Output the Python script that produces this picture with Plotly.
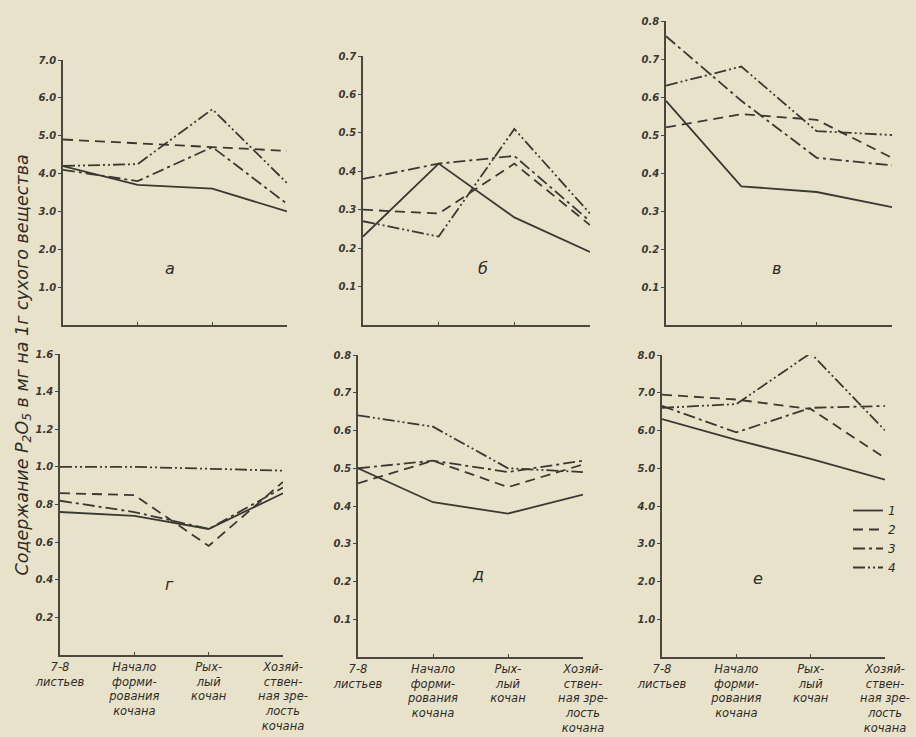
import plotly.graph_objects as go

W, H = 916, 737

stages = ["7-8<br>листьев", "Начало<br>форми-<br>рования<br>кочана",
          "Рых-<br>лый<br>кочан", "Хозяй-<br>ствен-<br>ная зре-<br>лость<br>кочана"]
series_names = ["1", "2", "3", "4"]

# panel а
a_1 = [4.2, 3.7, 3.6, 3.0]
a_2 = [4.9, 4.8, 4.7, 4.6]
a_3 = [4.1, 3.8, 4.7, 3.2]
a_4 = [4.2, 4.25, 5.7, 3.75]
# panel б
b_1 = [0.23, 0.42, 0.28, 0.19]
b_2 = [0.30, 0.29, 0.42, 0.26]
b_3 = [0.38, 0.42, 0.44, 0.27]
b_4 = [0.27, 0.23, 0.51, 0.29]
# panel в
v_1 = [0.59, 0.365, 0.35, 0.31]
v_2 = [0.52, 0.555, 0.54, 0.44]
v_3 = [0.76, 0.59, 0.44, 0.42]
v_4 = [0.63, 0.68, 0.51, 0.50]
# panel г
g_1 = [0.76, 0.74, 0.67, 0.86]
g_2 = [0.86, 0.85, 0.58, 0.92]
g_3 = [0.82, 0.76, 0.67, 0.89]
g_4 = [1.0, 1.0, 0.99, 0.98]
# panel д
d_1 = [0.50, 0.41, 0.38, 0.43]
d_2 = [0.46, 0.52, 0.45, 0.51]
d_3 = [0.50, 0.52, 0.49, 0.52]
d_4 = [0.64, 0.61, 0.50, 0.49]
# panel е
e_1 = [6.3, 5.75, 5.25, 4.7]
e_2 = [6.95, 6.82, 6.57, 5.27]
e_3 = [6.65, 5.95, 6.6, 6.65]
e_4 = [6.6, 6.7, 8.05, 6.0]

a_ticks = [1, 2, 3, 4, 5, 6, 7]
b_ticks = [0.1, 0.2, 0.3, 0.4, 0.5, 0.6, 0.7]
v_ticks = [0.1, 0.2, 0.3, 0.4, 0.5, 0.6, 0.7, 0.8]
g_ticks = [0.2, 0.4, 0.6, 0.8, 1.0, 1.2, 1.4, 1.6]
d_ticks = [0.1, 0.2, 0.3, 0.4, 0.5, 0.6, 0.7, 0.8]
e_ticks = [1, 2, 3, 4, 5, 6, 7, 8]

panels = [
    # letter, data, ticks, ymax, x px (left,right), y px (top,bottom), letter pos
    ("а", [a_1, a_2, a_3, a_4], a_ticks, 7.0, (63, 287), (60, 325), (163, 268)),
    ("б", [b_1, b_2, b_3, b_4], b_ticks, 0.7, (363, 590), (56, 325), (483, 268)),
    ("в", [v_1, v_2, v_3, v_4], v_ticks, 0.8, (666, 892), (21, 325), (783, 268)),
    ("г", [g_1, g_2, g_3, g_4], g_ticks, 1.6, (60, 283), (354, 655), (163, 596)),
    ("д", [d_1, d_2, d_3, d_4], d_ticks, 0.8, (358, 583), (355, 657), (478, 586)),
    ("е", [e_1, e_2, e_3, e_4], e_ticks, 8.0, (662, 885), (355, 657), (765, 590)),
]

line_color = "#3a3833"
dashes = ["solid", "10px,6px", "12px,4px,3px,4px", "12px,3px,2px,3px,2px,3px"]
font_fam = "DejaVu Sans"

fig = go.Figure()
layout = {}
annotations = []
for i, (letter, data, ticks, ymax, (xl, xr), (yt, yb), (lx, ly)) in enumerate(panels):
    n = "" if i == 0 else str(i + 1)
    xa, ya = "x" + n, "y" + n
    for k, vals in enumerate(data):
        fig.add_trace(go.Scatter(
            x=stages, y=vals, xaxis=xa, yaxis=ya, mode="lines",
            name=series_names[k], legendgroup=series_names[k], showlegend=(i == 0),
            line=dict(color=line_color, width=1.8, dash=dashes[k]),
            hoverinfo="skip"))
    bottom = i >= 3
    layout["xaxis" + n] = dict(
        domain=[xl / W, xr / W], anchor=ya, type="category", range=[0, 3],
        showline=True, linecolor="#4a4741", linewidth=1.5, showgrid=False,
        zeroline=False, ticks="inside", ticklen=3, tickcolor="#4a4741",
        showticklabels=bottom, automargin=False,
        tickfont=dict(family=font_fam, size=11.5, color="#2e2c28", style="italic"),
        fixedrange=True)
    layout["yaxis" + n] = dict(
        domain=[1 - yb / H, 1 - yt / H], anchor=xa, range=[0, ymax],
        showline=True, linecolor="#4a4741", linewidth=1.5, showgrid=False,
        zeroline=False, ticks="outside", ticklen=3, tickcolor="#4a4741",
        tickvals=ticks, ticktext=[f"{t:.1f}" for t in ticks], automargin=False,
        tickfont=dict(family=font_fam, size=10, color="#3a3833", style="italic",
                      weight="bold"),
        fixedrange=True)
    annotations.append(dict(
        x=lx / W, y=1 - ly / H, xref="paper", yref="paper", text=letter,
        showarrow=False, font=dict(family=font_fam, size=16, color="#2e2c28",
                                   style="italic")))

annotations.append(dict(
    x=9 / W, y=1 - 365 / H, xref="paper", yref="paper",
    text="Содержание P<sub>2</sub>O<sub>5</sub> в мг на 1г сухого вещества",
    textangle=-90, showarrow=False,
    font=dict(family=font_fam, size=17.5, color="#2e2c28", style="italic")))

fig.update_layout(
    width=W, height=H, margin=dict(l=0, r=0, t=0, b=0),
    paper_bgcolor="#e9e2cb", plot_bgcolor="rgba(0,0,0,0)",
    annotations=annotations, showlegend=True,
    legend=dict(x=848 / W, y=1 - 496 / H, xanchor="left", yanchor="top",
                bgcolor="rgba(0,0,0,0)", borderwidth=0, tracegroupgap=0,
                itemwidth=30,
                font=dict(family=font_fam, size=12, color="#2e2c28", style="italic")),
    **layout)

fig.write_html("out.html", config={"displayModeBar": False},
               post_script="document.body.style.margin='0';document.body.style.background='#e9e2cb';")
